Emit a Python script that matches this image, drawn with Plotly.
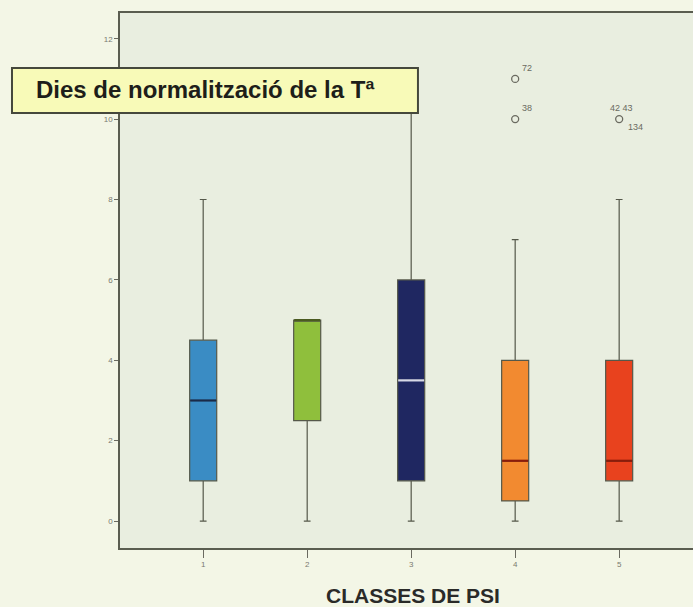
import plotly.graph_objects as go

# Days until temperature normalisation, by PSI risk class
classes = [1, 2, 3, 4, 5]
lower_whisker = [0, 0, 0, 0, 0]
q1 = [1, 2.5, 1, 0.5, 1]
median = [3, 5, 3.5, 1.5, 1.5]
q3 = [4.5, 5, 6, 4, 4]
upper_whisker = [8, 5, 11, 7, 8]

box_colors = ["#3a8cc4", "#8fbf3c", "#1f2761", "#f28a30", "#e8421e"]
median_colors = ["#1a2a48", "#4a5a20", "#d6d8e6", "#8a1c0a", "#8a1c0a"]

# Outlying cases (class, value, case ids)
outlier_class = [4, 4, 5]
outlier_value = [11, 10, 10]
outlier_ids = [["72"], ["38"], ["42", "43", "134"]]

tick_vals_y = [0, 2, 4, 6, 8, 10, 12]

fig = go.Figure()

for i, c in enumerate(classes):
    fig.add_trace(go.Box(
        x=[c], q1=[q1[i]], median=[median[i]], q3=[q3[i]],
        lowerfence=[lower_whisker[i]], upperfence=[upper_whisker[i]],
        width=0.26, whiskerwidth=0.25,
        fillcolor=box_colors[i],
        line=dict(color="#55584a", width=1.2),
        boxpoints=False, showlegend=False, hoverinfo="skip",
    ))
    # coloured median bar drawn over the box
    fig.add_trace(go.Scatter(
        x=[c - 0.125, c + 0.125], y=[median[i], median[i]],
        mode="lines", line=dict(color=median_colors[i], width=2.2),
        showlegend=False, hoverinfo="skip",
    ))

fig.add_trace(go.Scatter(
    x=outlier_class, y=outlier_value, mode="markers",
    marker=dict(symbol="circle-open", size=7, color="#6a6a60", line=dict(width=1.3)),
    showlegend=False, hoverinfo="skip",
))

# case labels next to the outliers
label_font = dict(family="Arial, Liberation Sans, sans-serif", size=9, color="#6a6a60")
for c, v, ids in zip(outlier_class, outlier_value, outlier_ids):
    if len(ids) == 1:
        fig.add_annotation(x=c, y=v, text=ids[0], showarrow=False,
                           xshift=12, yshift=11, font=label_font)
    else:
        fig.add_annotation(x=c, y=v, text=" ".join(ids[:2]), showarrow=False,
                           xshift=2, yshift=11, font=label_font)
        fig.add_annotation(x=c, y=v, text=ids[2], showarrow=False,
                           xshift=16, yshift=-8, font=label_font)

axis_font = dict(family="Arial, Liberation Sans, sans-serif", size=8, color="#7a7a70")

fig.update_layout(
    width=693, height=607,
    margin=dict(l=120, r=0, t=13, b=59),
    paper_bgcolor="#f3f6e6",
    plot_bgcolor="#e9eee0",
    xaxis=dict(
        range=[0.2, 5.71], tickvals=classes, ticktext=[str(c) for c in classes],
        showgrid=False, zeroline=False, showline=True, linecolor="#5a5d50",
        linewidth=1.5, mirror=True, ticks="outside", ticklen=8, tickcolor="#6a6a60",
        tickfont=axis_font,
    ),
    yaxis=dict(
        range=[-0.67, 12.64], tickvals=tick_vals_y,
        showgrid=False, zeroline=False, showline=True, linecolor="#5a5d50",
        linewidth=1.5, ticks="outside", ticklen=4, tickcolor="#6a6a60",
        tickfont=axis_font,
    ),
)

# axis title
fig.add_annotation(
    xref="paper", yref="paper", x=0.511, y=-0.088, yanchor="middle",
    text="<b>CLASSES DE PSI</b>", showarrow=False,
    font=dict(family="Arial, Liberation Sans, sans-serif", size=21, color="#2a2a28"),
)

# labelled title box overlapping the plot
fig.add_shape(
    type="rect", xref="paper", yref="paper",
    x0=-0.1885, x1=0.520, y0=0.813, y1=0.897,
    fillcolor="#f8fab8", line=dict(color="#45483c", width=2),
)
fig.add_annotation(
    xref="paper", yref="paper", x=-0.150, y=0.857, xanchor="left", yanchor="middle",
    text="<b>Dies de normalització de la Tª</b>", showarrow=False,
    font=dict(family="Arial, Liberation Sans, sans-serif", size=24, color="#1e1e1a"),
)

fig.write_html("out.html")
